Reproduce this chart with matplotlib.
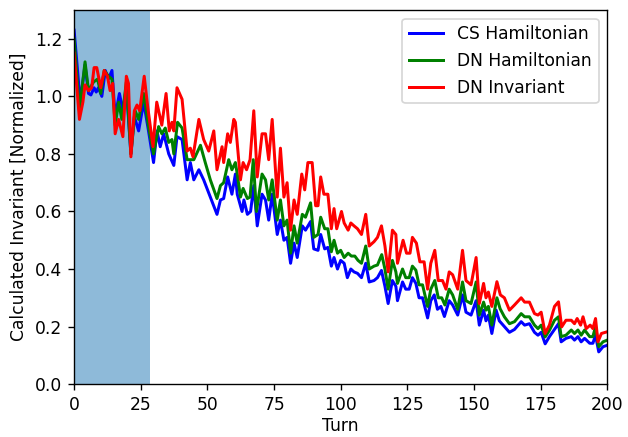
import numpy as np
import matplotlib
matplotlib.use('Agg')
import matplotlib.pyplot as plt

# values (turn, normalized invariant)
cs_turn = [0, 2.3, 4.1, 5.4, 6.3, 7.5, 8.3, 9.1, 10.4, 11.7, 12.9, 14.2, 15.4, 17, 18.3, 19.6, 21.3, 22.6, 24.2, 26.1, 28, 29.8,
           31.1, 32.3, 33.6, 35.5, 37.4, 38.6, 40.5, 42.4, 43.6, 44.9, 46.8, 48.6, 51.1, 53.6, 54.9, 56.1, 57.6, 59.2,
           60.5, 61.2, 63.0, 63.7, 65.0, 66.2, 67.4, 68.7, 70.5, 71.8, 73.0, 74.3, 76.2, 77.4, 78.7, 79.9, 81.2, 82.5, 83.7, 85.6, 86.8, 88.7, 89.9,
           91.5, 92.5, 94, 95.2, 96.5, 97.5, 98.8, 100, 101.3, 102.5, 103.8, 105, 106.3, 107.8, 109.4, 110.7, 112.5, 113.8, 115.3, 116.6, 117.8, 119.4, 120.7,
           121.3, 123.2, 124.4, 125.7, 126.9, 128.2, 129.4, 130.7, 132.6, 133.8, 135.1, 136.3, 137.6, 138.9, 140.7, 142, 143.9, 145.7, 147, 148.9, 150.8,
           152, 153.6, 154.5, 155.4, 156.7, 158.3, 159.5, 161.4, 163.3, 165.2, 167.7, 169, 170.8, 172.7, 174, 175.2, 176.7, 178.3, 180.2,
           181.7, 182.7, 184.5, 186.5, 187.7, 189, 190.2, 191.5, 193.4, 194.6, 195.6, 196.8, 198.4, 200]
cs_ham = [1.23, 0.98, 1.11, 1.01, 1.005, 1.03, 1.015, 1.03, 1.0, 1.09, 1.06, 1.09, 0.93, 1.01, 0.95, 1.03, 0.80, 0.93, 0.88, 0.98, 0.875, 0.77,
          0.88, 0.825, 0.87, 0.80, 0.76, 0.86, 0.85, 0.71, 0.77, 0.71, 0.745, 0.71, 0.65, 0.59, 0.64, 0.645, 0.72, 0.66,
          0.73, 0.66, 0.60, 0.64, 0.59, 0.60, 0.69, 0.55, 0.66, 0.64, 0.57, 0.66, 0.52, 0.57, 0.50, 0.51, 0.42, 0.49, 0.44, 0.55, 0.535, 0.565, 0.47,
          0.465, 0.52, 0.47, 0.475, 0.41, 0.44, 0.40, 0.43, 0.42, 0.37, 0.40, 0.39, 0.385, 0.37, 0.42, 0.355, 0.36, 0.37, 0.395, 0.34, 0.28, 0.36, 0.34,
          0.29, 0.355, 0.33, 0.33, 0.37, 0.35, 0.30, 0.30, 0.23, 0.29, 0.31, 0.26, 0.27, 0.235, 0.29, 0.275, 0.24, 0.31, 0.25, 0.24, 0.29,
          0.205, 0.257, 0.22, 0.24, 0.176, 0.257, 0.22, 0.20, 0.18, 0.19, 0.217, 0.205, 0.21, 0.18, 0.17, 0.18, 0.14, 0.165, 0.19,
          0.21, 0.147, 0.159, 0.165, 0.153, 0.165, 0.147, 0.159, 0.142, 0.142, 0.17, 0.112, 0.13, 0.135]

dn_turn = [0, 2.0, 4.1, 5.4, 7.3, 8.8, 10.0, 11.3, 12.9, 14.2, 15.4, 16.7, 17.9, 19.6, 21.3, 22.9, 24.2, 26.1, 28, 29.8,
           31.7, 32.9, 34.2, 35.5, 36.7, 37.4, 38.8, 40.5, 42.4, 43.6, 44.9, 47.4, 49.2, 51.1, 53.6, 54.9, 56.1, 58.0, 59.2, 60.5,
           61.2, 62.4, 63.4, 65.0, 66.0, 67.2, 68.4, 70.5, 71.8, 73.0, 74.3, 76.2, 77.4, 78.7, 79.9, 81.2, 82.5, 83.7, 85.6, 86.8, 88.7, 89.9,
           91.5, 92.5, 94.0, 95.2, 96.5, 97.5, 98.8, 100.0, 101.3, 102.8, 104.0, 105.3, 106.5, 107.8, 109.4, 110.7, 112.5, 113.8, 115.4, 116.6, 117.8, 119.4, 120.7,
           121.3, 123.2, 124.4, 125.7, 126.9, 128.2, 129.4, 130.7, 132.6, 133.8, 135.3, 136.6, 137.9, 139.1, 140.7, 142.0, 143.9, 145.7, 147.0, 148.9, 150.8,
           152.0, 153.6, 154.5, 155.4, 156.7, 158.6, 159.8, 161.4, 163.3, 165.2, 167.7, 169.0, 170.8, 172.7, 174.0, 175.2, 176.7, 178.3, 180.2,
           181.7, 182.7, 184.5, 186.5, 187.7, 189.0, 190.2, 191.5, 193.4, 194.6, 195.6, 196.8, 198.4, 200]
dn_ham = [1.20, 0.95, 1.12, 1.02, 1.05, 1.06, 1.01, 1.09, 1.07, 1.06, 0.90, 0.98, 0.92, 1.05, 0.80, 0.95, 0.92, 1.01, 0.89, 0.80,
          0.895, 0.87, 0.89, 0.84, 0.85, 0.80, 0.91, 0.89, 0.78, 0.78, 0.78, 0.83, 0.77, 0.71, 0.645, 0.69, 0.70, 0.78, 0.745, 0.77,
          0.73, 0.65, 0.68, 0.645, 0.65, 0.78, 0.60, 0.73, 0.71, 0.64, 0.71, 0.57, 0.64, 0.55, 0.57, 0.455, 0.55, 0.49, 0.59, 0.58, 0.63, 0.51,
          0.52, 0.58, 0.54, 0.54, 0.46, 0.50, 0.455, 0.465, 0.44, 0.455, 0.445, 0.445, 0.43, 0.42, 0.48, 0.40, 0.41, 0.414, 0.45, 0.40, 0.33, 0.43, 0.39,
          0.35, 0.40, 0.37, 0.37, 0.41, 0.396, 0.345, 0.345, 0.27, 0.33, 0.36, 0.30, 0.30, 0.275, 0.33, 0.31, 0.26, 0.355, 0.29, 0.28, 0.355,
          0.24, 0.285, 0.257, 0.27, 0.205, 0.30, 0.262, 0.234, 0.21, 0.217, 0.245, 0.234, 0.234, 0.205, 0.193, 0.205, 0.164, 0.187, 0.222,
          0.234, 0.165, 0.17, 0.188, 0.176, 0.188, 0.17, 0.188, 0.165, 0.165, 0.20, 0.13, 0.147, 0.153]

inv_turn = [0, 2.0, 3.3, 4.1, 5.4, 6.6, 7.5, 8.5, 10.0, 11.3, 12.5, 13.5, 14.5, 15.4, 16.7, 18.3, 19.6, 20.4, 21.3, 22.6, 23.6, 24.6, 26.3, 27.6, 29.6,
            31.0, 32.9, 34.5, 35.7, 36.7, 37.4, 38.6, 40.5, 42.4, 43.6, 44.6, 46.8, 48.6, 50.5, 52.4, 53.6, 55.5, 56.1, 57.6, 58.6, 59.9,
            60.5, 62.4, 63.4, 64.7, 66.0, 67.4, 68.7, 70.5, 71.8, 73.0, 74.3, 76.2, 77.4, 78.7, 79.9, 81.2, 82.5, 83.7, 85.4, 86.5, 87.7, 89.3,
            90.6, 91.5, 92.5, 93.7, 95.2, 96.5, 97.5, 98.5, 100.3, 101.3, 102.8, 103.8, 105.0, 106.3, 107.8, 109.4, 110.7, 112.5, 113.8, 115.3, 116.6, 117.8, 119.4, 120.7,
            121.3, 123.4, 124.7, 126.0, 126.9, 128.4, 129.7, 131.3, 132.6, 133.8, 135.3, 136.6, 138.2, 139.5, 140.7, 142.0, 143.9, 145.7, 147.0, 148.9, 150.8,
            152.0, 153.6, 154.5, 155.4, 156.7, 158.6, 159.9, 161.4, 163.3, 165.2, 167.7, 169.0, 170.8, 172.7, 174.0, 175.2, 176.7, 178.3, 180.2,
            181.7, 182.9, 184.5, 186.5, 187.7, 188.7, 190.0, 190.9, 192.1, 193.6, 194.6, 195.6, 196.5, 197.8, 200]
dn_inv = [1.15, 0.92, 0.98, 1.04, 1.02, 1.03, 1.10, 1.10, 1.03, 1.09, 1.07, 1.02, 1.045, 0.87, 0.92, 0.86, 1.07, 1.045, 0.79, 0.95, 0.97, 0.95, 1.07, 0.965, 0.825,
          0.98, 0.90, 1.01, 0.88, 0.91, 0.88, 1.03, 0.99, 0.81, 0.82, 0.79, 0.92, 0.85, 0.81, 0.88, 0.745, 0.825, 0.77, 0.87, 0.84, 0.92,
          0.91, 0.71, 0.77, 0.745, 0.78, 0.95, 0.72, 0.87, 0.87, 0.78, 0.92, 0.65, 0.82, 0.65, 0.70, 0.535, 0.64, 0.59, 0.73, 0.675, 0.77, 0.77,
          0.62, 0.62, 0.72, 0.66, 0.66, 0.54, 0.61, 0.54, 0.60, 0.56, 0.535, 0.56, 0.55, 0.54, 0.52, 0.59, 0.48, 0.495, 0.51, 0.55, 0.48, 0.39, 0.535, 0.52,
          0.42, 0.50, 0.455, 0.455, 0.51, 0.49, 0.425, 0.425, 0.33, 0.42, 0.465, 0.36, 0.36, 0.33, 0.39, 0.38, 0.33, 0.465, 0.36, 0.345, 0.44,
          0.28, 0.35, 0.30, 0.32, 0.27, 0.356, 0.31, 0.30, 0.257, 0.275, 0.30, 0.285, 0.285, 0.245, 0.24, 0.25, 0.176, 0.205, 0.27,
          0.286, 0.199, 0.222, 0.222, 0.21, 0.228, 0.205, 0.234, 0.193, 0.205, 0.193, 0.228, 0.147, 0.176, 0.182]

span_end = 28.5

# rendered at a higher dpi so fonts/ticks come out as big as in the reference
dpi = 123
fig, ax = plt.subplots(figsize=(628 / dpi, 437 / dpi), dpi=dpi)
fig.subplots_adjust(left=0.118, right=0.967, top=0.977, bottom=0.121)

ax.axvspan(0, span_end, color='tab:blue', alpha=0.5, lw=0)
ax.plot(cs_turn, cs_ham, color='blue', lw=1.75, label='CS Hamiltonian')
ax.plot(dn_turn, dn_ham, color='green', lw=1.75, label='DN Hamiltonian')
ax.plot(inv_turn, dn_inv, color='red', lw=1.75, label='DN Invariant')

ax.set_xlim(0, 200)
ax.set_ylim(0, 1.3)
ax.set_xlabel('Turn', labelpad=2)
ax.set_ylabel('Calculated Invariant [Normalized]')
ax.legend(loc='upper right')

fig.savefig('out.png', dpi=dpi)
